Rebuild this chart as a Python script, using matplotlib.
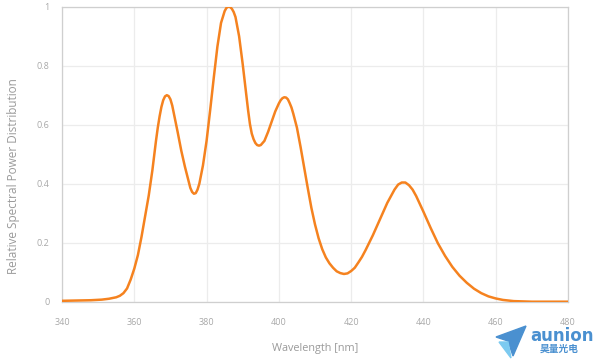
"""
Relative spectral power distribution (UV LED) - recreated chart.
"""

import matplotlib
matplotlib.use('Agg')
import matplotlib.pyplot as plt
from matplotlib.patches import Polygon

# ── Data ───────────────────────────────────────────────────────
wavelength = [340, 344, 348, 351, 353, 355, 356, 357, 358, 359,
              360, 361, 362, 363, 364, 365, 365.5, 366, 366.5, 367, 367.5,
              368, 368.5, 369, 369.5, 370, 370.5, 371, 372, 373, 374,
              375, 375.5, 376, 376.5, 377, 377.5, 378, 379, 380, 381,
              382, 383, 384, 385, 385.5, 386, 386.5, 387, 387.5, 388,
              389, 390, 391, 391.5, 392, 392.5, 393, 393.5, 394, 394.5, 395,
              396, 397, 398, 399, 400, 400.5, 401, 401.5, 402, 402.5,
              403, 403.5, 404, 405, 406, 407, 408, 409, 410, 411,
              412, 413, 414, 415, 416, 417, 418, 419, 420, 421,
              422, 423, 424, 426, 428, 430, 432, 433, 434, 435,
              436, 437, 438, 440, 442, 444, 446, 448, 450, 452,
              454, 456, 458, 460, 462, 465, 470, 480]
power = [0.003, 0.004, 0.005, 0.007, 0.010, 0.015, 0.020, 0.029, 0.045, 0.075,
         0.112, 0.158, 0.22, 0.29, 0.36, 0.445, 0.495, 0.545, 0.59, 0.628, 0.66,
         0.683, 0.696, 0.70, 0.697, 0.686, 0.665, 0.635, 0.575, 0.512, 0.458,
         0.41, 0.386, 0.372, 0.366, 0.368, 0.38, 0.40, 0.462, 0.545, 0.65,
         0.76, 0.865, 0.945, 0.985, 0.996, 1.0, 0.999, 0.993, 0.982, 0.965,
         0.90, 0.805, 0.70, 0.648, 0.602, 0.570, 0.551, 0.538, 0.531, 0.529, 0.531,
         0.545, 0.575, 0.61, 0.645, 0.672, 0.683, 0.69, 0.693, 0.692, 0.686,
         0.673, 0.658, 0.637, 0.59, 0.525, 0.455, 0.385, 0.318, 0.262, 0.215,
         0.178, 0.15, 0.13, 0.115, 0.103, 0.097, 0.094, 0.096, 0.104, 0.115,
         0.133, 0.152, 0.175, 0.225, 0.28, 0.335, 0.38, 0.397, 0.404, 0.404,
         0.395, 0.38, 0.358, 0.305, 0.25, 0.198, 0.155, 0.118, 0.088, 0.064,
         0.044, 0.029, 0.018, 0.011, 0.006, 0.002, 0.0, 0.0]

x_ticks = [340, 360, 380, 400, 420, 440, 460, 480]
y_ticks = [0, 0.2, 0.4, 0.6, 0.8, 1]
y_tick_labels = ['0', '0.2', '0.4', '0.6', '0.8', '1']

LINE_COLOR = '#f5821f'
TEXT_COLOR = '#9a9a9a'
# ───────────────────────────────────────────────────────────────

plt.rcParams['font.family'] = ['Open Sans', 'Noto Sans CJK SC', 'DejaVu Sans']

W, H = 604, 364
fig = plt.figure(figsize=(W / 100, H / 100), dpi=100)
ax = fig.add_axes([62 / W, 1 - 301.7 / H, 506 / W, 295 / H])

ax.plot(wavelength, power, color=LINE_COLOR, linewidth=1.8,
        solid_joinstyle='round', solid_capstyle='round', zorder=3)

ax.set_xlim(340, 480)
ax.set_ylim(0, 1)
ax.set_xticks(x_ticks)
ax.set_yticks(y_ticks)
ax.set_yticklabels(y_tick_labels)
ax.tick_params(length=0, labelsize=6.5, labelcolor='#a8a8a8')
ax.tick_params(axis='x', pad=12)
ax.tick_params(axis='y', pad=9)

ax.grid(True, color='#ececec', linewidth=0.9)
ax.set_axisbelow(True)
for side in ax.spines.values():
    side.set_color('#cfcfcf')
    side.set_linewidth(0.9)

ax.set_xlabel('Wavelength [nm]', fontsize=7.8, color=TEXT_COLOR)
ax.xaxis.set_label_coords((315 - 62) / 506, -(343 - 301.7) / 295)
ax.set_ylabel('Relative Spectral Power Distribution', fontsize=8.5,
              color=TEXT_COLOR)
ax.yaxis.set_label_coords(-(62 - 20) / 506, (301.7 - 176) / 295)


# logo (bottom right)
def px(x, y):
    return (x / W, 1 - y / H)


plane_dark = Polygon([px(496, 337), px(526, 326), px(513, 356), px(508, 341)],
                     closed=True, transform=fig.transFigure,
                     color='#4a90d0', zorder=5)
plane_light = Polygon([px(499, 342), px(508, 342), px(511, 358)],
                      closed=True, transform=fig.transFigure,
                      color='#7ccaf0', zorder=5)
fig.add_artist(plane_dark)
fig.add_artist(plane_light)
fig.text(530 / W, 1 - 336 / H, 'aunion', fontsize=12, fontweight='bold',
         color='#4a90d0', ha='left', va='center', family=['DejaVu Sans'])
fig.text(559 / W, 1 - 349 / H, '昊量光电', fontsize=7, fontweight='bold',
         color='#4a90d0', ha='center', va='center',
         family=['Noto Sans CJK SC', 'DejaVu Sans'])

fig.savefig('out.png', dpi=100)
